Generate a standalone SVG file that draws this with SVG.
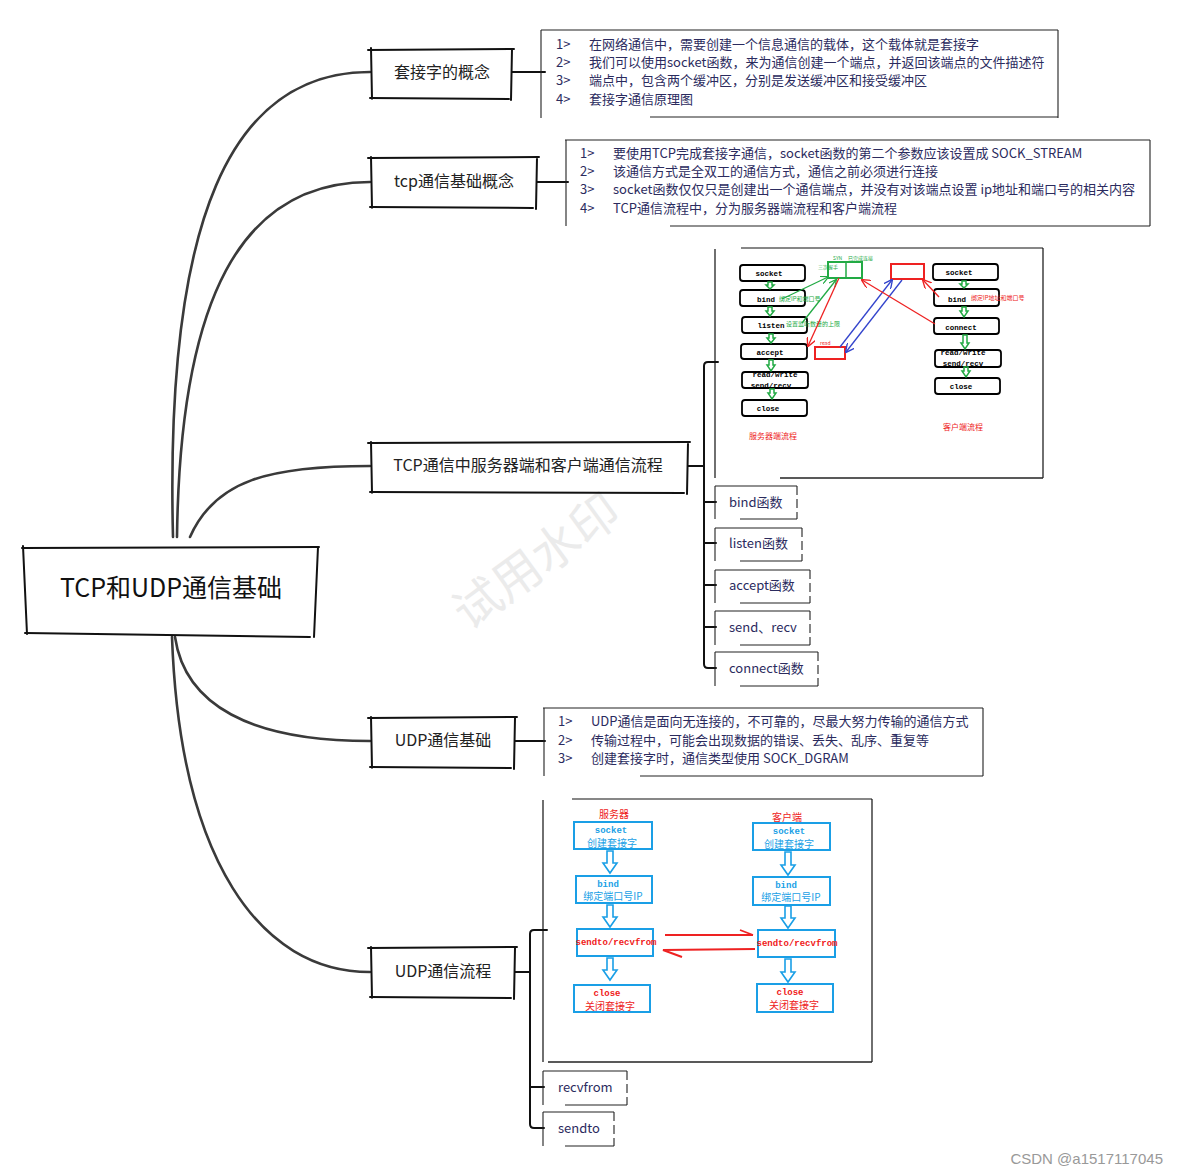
<svg xmlns="http://www.w3.org/2000/svg" width="1178" height="1175" viewBox="0 0 1178 1175">
<style>
.cn{font-family:"Noto Sans CJK SC","Liberation Sans",sans-serif}
.sk{fill:none;stroke:#111;stroke-width:2;stroke-linecap:round}
.br{fill:none;stroke:#3a3a3a;stroke-width:2.6;stroke-linecap:round}
.ln{fill:none;stroke:#111;stroke-width:2;stroke-linecap:round}
.tb{fill:none;stroke:#222;stroke-width:1.1}
.tbd{fill:none;stroke:#222;stroke-width:1.1;stroke-dasharray:9 4}
.l1{font-size:16px;fill:#222}
.lt{font-size:13px;fill:#2b2b5e}
.ct{font-size:13px;fill:#2b2b5e}
.bx{fill:#fff;stroke:#000;stroke-width:1.8}
.mono{font-family:"Liberation Mono","DejaVu Sans Mono",monospace;font-weight:bold}
.tk{font-size:7.5px;fill:#000}
.ga{fill:none;stroke:#22aa44;stroke-width:1.5}
.ub{fill:#fff;stroke:#1a9fe6;stroke-width:2}
.ua{fill:#fff;stroke:#1a9fe6;stroke-width:1.6}
.ubt{font-size:9px;fill:#1a9fe6}
.urt{font-size:9px;fill:#f02020}
.frame{fill:none;stroke:#111;stroke-width:1.2}
</style>
<defs>
<marker id="ag" viewBox="0 0 10 10" refX="9" refY="5" markerWidth="8" markerHeight="8" markerUnits="userSpaceOnUse" orient="auto"><path d="M0,0 L10,5 L0,10" fill="none" stroke="#22aa44" stroke-width="1.5"/></marker>
<marker id="ar" viewBox="0 0 10 10" refX="9" refY="5" markerWidth="9" markerHeight="9" markerUnits="userSpaceOnUse" orient="auto"><path d="M0,0 L10,5 L0,10" fill="none" stroke="#ee2222" stroke-width="1.5"/></marker>
<marker id="ab" viewBox="0 0 10 10" refX="9" refY="5" markerWidth="9" markerHeight="9" markerUnits="userSpaceOnUse" orient="auto"><path d="M0,0 L10,5 L0,10" fill="none" stroke="#3344cc" stroke-width="1.5"/></marker>
</defs>
<rect width="1178" height="1175" fill="#fff"/>

<text x="537" y="578" transform="rotate(-36 537 562)" text-anchor="middle" class="cn" font-size="48" fill="#ebebeb">试用水印</text>

<g id="connectors">
<path class="br" d="M173,537 C165,220 230,72 370,72"/>
<path class="br" d="M177,537 C180,300 240,182 370,182"/>
<path class="br" d="M190,537 C215,480 270,466 370,466"/>
<path class="br" d="M175,637 C185,705 250,741 370,741"/>
<path class="br" d="M172,637 C180,860 260,972 370,972"/>
<path class="ln" d="M512,72 L545,72"/>
<path class="ln" d="M537,182 L568,182"/>
<path class="ln" d="M688,466 L704,466"/>
<path class="ln" d="M718,362 L708,362 Q704,362 704,366 L704,664 Q704,668 708,668 L716,668"/>
<path class="ln" d="M704,502 L716,502 M704,543 L716,543 M704,585 L716,585 M704,627 L716,627"/>
<path class="ln" d="M515,741 L545,741"/>
<path class="ln" d="M515,972 L530,972"/>
<path class="ln" d="M547,930 L534,930 Q530,930 530,934 L530,1124 Q530,1128 534,1128 L544,1128"/>
<path class="ln" d="M530,1087 L544,1087"/>
</g>

<g id="root">
<path d="M22,548 L319,547" class="sk" stroke-width="3"/>
<path d="M23,546 L27,634" class="sk" stroke-width="2.5"/>
<path d="M318,547 L314,637" class="sk" stroke-width="2.5"/>
<path d="M25,633 L310,637" class="sk" stroke-width="2.5"/>
<text x="171" y="597" text-anchor="middle" class="cn" font-size="25" fill="#111">TCP和UDP通信基础</text>
</g>

<g id="n-socket-concept">
<path class="sk" d="M368,50 L514,49 M371,48 L372,99 M512,49 L511,100 M370,98 L509,99"/>
<text x="442" y="78" text-anchor="middle" class="cn l1">套接字的概念</text>
</g>
<g id="n-socket-concept-text">
<path class="tb" d="M541,30 L1058,30 M541,30 L541,118 M1058,30 L1058,118"/>
<path class="tb" d="M650,117 L1058,117" stroke="#444" stroke-width="1.5"/>
<g class="cn lt">
<text x="556" y="48.5">1&gt;</text><text x="589" y="48.5">在网络通信中，需要创建一个信息通信的载体，这个载体就是套接字</text>
<text x="556" y="66.5">2&gt;</text><text x="589" y="66.5">我们可以使用socket函数，来为通信创建一个端点，并返回该端点的文件描述符</text>
<text x="556" y="84.5">3&gt;</text><text x="589" y="84.5">端点中，包含两个缓冲区，分别是发送缓冲区和接受缓冲区</text>
<text x="556" y="103.5">4&gt;</text><text x="589" y="103.5">套接字通信原理图</text>
</g>
</g>

<g id="n-tcp-concept">
<path class="sk" d="M368,158 L539,157 M371,157 L372,208 M537,158 L536,209 M370,207 L533,208"/>
<text x="454" y="187" text-anchor="middle" class="cn l1">tcp通信基础概念</text>
</g>
<g id="n-tcp-concept-text">
<path class="tb" d="M565,140 L1150,140 M566,140 L566,226 M1150,140 L1150,226"/>
<path class="tb" d="M670,226 L1150,226" stroke="#444" stroke-width="1.5"/>
<g class="cn lt">
<text x="580" y="157.5">1&gt;</text><text x="613" y="157.5">要使用TCP完成套接字通信，socket函数的第二个参数应该设置成 SOCK_STREAM</text>
<text x="580" y="175.5">2&gt;</text><text x="613" y="175.5">该通信方式是全双工的通信方式，通信之前必须进行连接</text>
<text x="580" y="193.5">3&gt;</text><text x="613" y="193.5">socket函数仅仅只是创建出一个通信端点，并没有对该端点设置 ip地址和端口号的相关内容</text>
<text x="580" y="212.5">4&gt;</text><text x="613" y="212.5">TCP通信流程中，分为服务器端流程和客户端流程</text>
</g>
</g>

<g id="n-tcp-flow">
<path class="sk" d="M368,443 L690,442 M371,442 L372,493 M688,443 L687,494 M370,492 L684,493"/>
<text x="528" y="471" text-anchor="middle" class="cn l1">TCP通信中服务器端和客户端通信流程</text>
</g>

<g id="tcp-flow-image">
<path class="frame" d="M741,248 L1043,248 M715,249 L715,478 M1043,248 L1043,478"/>
<path d="M780,478 L1043,478" stroke="#222" stroke-width="1.5"/>
<g class="mono tk" text-anchor="middle">
<rect class="bx" x="740" y="265" width="65" height="16" rx="3"/><text x="769" y="275.5">socket</text>
<rect class="bx" x="740" y="290" width="65" height="16" rx="3"/><text x="766" y="301.5">bind</text>
<rect class="bx" x="742" y="317" width="65" height="16" rx="3"/><text x="771" y="327.5">listen</text>
<rect class="bx" x="741" y="344" width="66" height="15" rx="3"/><text x="770" y="354.5">accept</text>
<rect class="bx" x="742" y="372" width="66" height="16" rx="3"/><text x="775" y="377">read/write</text><text x="771" y="388">send/recv</text>
<rect class="bx" x="742" y="400" width="65" height="16" rx="3"/><text x="768" y="410.5">close</text>
<rect class="bx" x="933" y="264" width="65" height="16" rx="3"/><text x="959" y="274.5">socket</text>
<rect class="bx" x="934" y="289" width="65" height="17" rx="3"/><text x="957" y="301.5">bind</text>
<rect class="bx" x="934" y="318" width="65" height="16" rx="3"/><text x="961" y="329.5">connect</text>
<rect class="bx" x="935" y="350" width="66" height="17" rx="3"/><text x="963" y="354.5">read/write</text><text x="963" y="366">send/recv</text>
<rect class="bx" x="935" y="378" width="65" height="16" rx="3"/><text x="961" y="388.5">close</text>
</g>
<g class="ga">
<path d="M768,282 v3 h-2 l4,4 l4,-4 h-2 v-3 z"/>
<path d="M768,307 v4 h-2 l4,5 l4,-5 h-2 v-4 z"/>
<path d="M769,334 v4 h-2 l4,5 l4,-5 h-2 v-4 z"/>
<path d="M769,360 v5 h-2 l4,6 l4,-6 h-2 v-5 z"/>
<path d="M770,389 v4 h-2 l4,6 l4,-6 h-2 v-4 z"/>
<path d="M962,281 v3 h-2 l4,4 l4,-4 h-2 v-3 z"/>
<path d="M962,307 v4 h-2 l4,6 l4,-6 h-2 v-4 z"/>
<path d="M963,335 v8 h-2 l4,6 l4,-6 h-2 v-8 z"/>
<path d="M964,367 v4 h-2 l4,6 l4,-6 h-2 v-4 z"/>
</g>
<g class="cn" font-size="6">
<text x="779" y="301" fill="#22aa44">绑定IP和端口号</text>
<text x="786" y="326" fill="#22aa44">设置监听数量的上限</text>
<text x="971" y="300" fill="#ee2222">绑定IP地址和端口号</text>
<text x="818" y="269" fill="#22aa44" font-size="5">三次握手</text>
<text x="848" y="260" fill="#22aa44" font-size="5">已完成连接</text>
<text x="833" y="260" fill="#22aa44" font-size="5">SYN</text>
<text x="820" y="345" fill="#ee2222" font-size="5">read</text>
</g>
<rect x="828" y="262" width="34" height="16" fill="none" stroke="#22aa44" stroke-width="2"/>
<path d="M846,262 V278" stroke="#22aa44" stroke-width="1.5"/>
<rect x="891" y="264" width="33" height="15" fill="none" stroke="#ee2222" stroke-width="2"/>
<rect x="815" y="347" width="30" height="12" fill="none" stroke="#ee2222" stroke-width="2"/>
<path d="M782,299 L828,277" stroke="#22aa44" stroke-width="1.3" fill="none" marker-end="url(#ag)"/>
<path d="M802,323 L836,280" stroke="#22aa44" stroke-width="1.3" fill="none" marker-end="url(#ag)"/>
<path d="M839,278 L808,346" stroke="#ee2222" stroke-width="1.3" fill="none" marker-end="url(#ar)"/>
<path d="M840,347 L892,280" stroke="#3344cc" stroke-width="1.3" fill="none" marker-end="url(#ab)"/>
<path d="M902,280 L846,352" stroke="#3344cc" stroke-width="1.3" fill="none" marker-end="url(#ab)"/>
<path d="M935,324 L862,280" stroke="#ee2222" stroke-width="1.3" fill="none" marker-end="url(#ar)"/>
<path d="M939,297 L923,280" stroke="#ee2222" stroke-width="1.3" fill="none" marker-end="url(#ar)"/>
<text x="773" y="439" text-anchor="middle" class="cn" font-size="8" fill="#ee2222">服务器端流程</text>
<text x="963" y="430" text-anchor="middle" class="cn" font-size="8" fill="#ee2222">客户端流程</text>
</g>

<g id="c-bind">
<path class="tb" d="M715,486 L797,486 M715,486 L715,519 M740,519 L797,519"/><path class="tbd" d="M797,486 L797,519"/>
<text x="729" y="507" class="cn ct">bind函数</text>
</g>
<g id="c-listen">
<path class="tb" d="M715,528 L802,528 M715,528 L715,561 M740,561 L802,561"/><path class="tbd" d="M802,528 L802,561"/>
<text x="729" y="548" class="cn ct">listen函数</text>
</g>
<g id="c-accept">
<path class="tb" d="M715,570 L810,570 M715,570 L715,603 M740,603 L810,603"/><path class="tbd" d="M810,570 L810,603"/>
<text x="729" y="590" class="cn ct">accept函数</text>
</g>
<g id="c-sendrecv">
<path class="tb" d="M715,611 L810,611 M715,611 L715,645 M740,645 L810,645"/><path class="tbd" d="M810,611 L810,645"/>
<text x="729" y="632" class="cn ct">send、recv</text>
</g>
<g id="c-connect">
<path class="tb" d="M715,652 L818,652 M715,652 L715,686 M740,686 L818,686"/><path class="tbd" d="M818,652 L818,686"/>
<text x="729" y="673" class="cn ct">connect函数</text>
</g>

<g id="n-udp-basic">
<path class="sk" d="M368,718 L517,717 M371,717 L372,768 M515,718 L514,769 M370,767 L511,768"/>
<text x="443" y="746" text-anchor="middle" class="cn l1">UDP通信基础</text>
</g>
<g id="n-udp-basic-text">
<path class="tb" d="M543,708 L983,708 M544,708 L544,776 M983,708 L983,776"/>
<path class="tb" d="M640,776 L983,776" stroke="#444" stroke-width="1.5"/>
<g class="cn lt">
<text x="558" y="725.5">1&gt;</text><text x="591" y="725.5">UDP通信是面向无连接的，不可靠的，尽最大努力传输的通信方式</text>
<text x="558" y="744.5">2&gt;</text><text x="591" y="744.5">传输过程中，可能会出现数据的错误、丢失、乱序、重复等</text>
<text x="558" y="762.5">3&gt;</text><text x="591" y="762.5">创建套接字时，通信类型使用 SOCK_DGRAM</text>
</g>
</g>

<g id="n-udp-flow">
<path class="sk" d="M368,948 L517,947 M371,947 L372,998 M515,948 L514,999 M370,997 L511,998"/>
<text x="443" y="977" text-anchor="middle" class="cn l1">UDP通信流程</text>
</g>

<g id="udp-flow-image">
<path class="frame" d="M572,799 L872,799 M543,800 L543,1062 M872,799 L872,1062"/>
<path d="M548,1062 L872,1062" stroke="#222" stroke-width="1.5"/>
<text x="614" y="818" text-anchor="middle" class="cn" font-size="10" fill="#ee2222">服务器</text>
<text x="787" y="821" text-anchor="middle" class="cn" font-size="10" fill="#ee2222">客户端</text>
<rect class="ub" x="574" y="822" width="78" height="27"/>
<text x="611" y="832.5" text-anchor="middle" class="mono ubt">socket</text>
<text x="612" y="847" text-anchor="middle" class="cn" font-size="10" fill="#1a9fe6">创建套接字</text>
<rect class="ub" x="576" y="876" width="76" height="27"/>
<text x="608" y="886.5" text-anchor="middle" class="mono ubt">bind</text>
<text x="613" y="900" text-anchor="middle" class="cn" font-size="10" fill="#1a9fe6">绑定端口号IP</text>
<rect class="ub" x="577" y="929" width="76" height="27"/>
<text x="616" y="945" text-anchor="middle" class="mono urt">sendto/recvfrom</text>
<rect class="ub" x="574" y="985" width="76" height="27"/>
<text x="607" y="996" text-anchor="middle" class="mono urt">close</text>
<text x="610" y="1010" text-anchor="middle" class="cn" font-size="10" fill="#ee2222">关闭套接字</text>
<rect class="ub" x="753" y="823" width="77" height="27"/>
<text x="789" y="833.5" text-anchor="middle" class="mono ubt">socket</text>
<text x="789" y="848" text-anchor="middle" class="cn" font-size="10" fill="#1a9fe6">创建套接字</text>
<rect class="ub" x="753" y="877" width="77" height="28"/>
<text x="786" y="887.5" text-anchor="middle" class="mono ubt">bind</text>
<text x="791" y="901" text-anchor="middle" class="cn" font-size="10" fill="#1a9fe6">绑定端口号IP</text>
<rect class="ub" x="758" y="930" width="77" height="27"/>
<text x="797" y="946" text-anchor="middle" class="mono urt">sendto/recvfrom</text>
<rect class="ub" x="757" y="984" width="76" height="28"/>
<text x="790" y="995" text-anchor="middle" class="mono urt">close</text>
<text x="794" y="1009" text-anchor="middle" class="cn" font-size="10" fill="#ee2222">关闭套接字</text>
<path class="ua" d="M607,851 v12 h-4 l7,10 l7,-10 h-4 v-12 z"/>
<path class="ua" d="M607,905 v12 h-4 l7,10 l7,-10 h-4 v-12 z"/>
<path class="ua" d="M607,958 v12 h-4 l7,10 l7,-10 h-4 v-12 z"/>
<path class="ua" d="M785,852 v13 h-4 l7,10 l7,-10 h-4 v-13 z"/>
<path class="ua" d="M785,906 v12 h-4 l7,10 l7,-10 h-4 v-12 z"/>
<path class="ua" d="M785,959 v13 h-4 l7,10 l7,-10 h-4 v-13 z"/>
<path d="M665,935 L753,935 M740,930 L753,935" fill="none" stroke="#ee2222" stroke-width="1.8"/>
<path d="M755,949 L663,950 L682,957" fill="none" stroke="#ee2222" stroke-width="2"/>
</g>

<g id="c-recvfrom">
<path class="tb" d="M543,1071 L627,1071 M543,1071 L543,1105 M565,1105 L627,1105"/><path class="tbd" d="M627,1071 L627,1105"/>
<text x="558" y="1092" class="cn ct">recvfrom</text>
</g>
<g id="c-sendto">
<path class="tb" d="M543,1112 L614,1112 M543,1112 L543,1146 M565,1146 L614,1146"/><path class="tbd" d="M614,1112 L614,1146"/>
<text x="558" y="1133" class="cn ct">sendto</text>
</g>

<text x="1163" y="1164" text-anchor="end" font-family="Liberation Sans, sans-serif" font-size="15" fill="#999">CSDN @a1517117045</text>
</svg>
